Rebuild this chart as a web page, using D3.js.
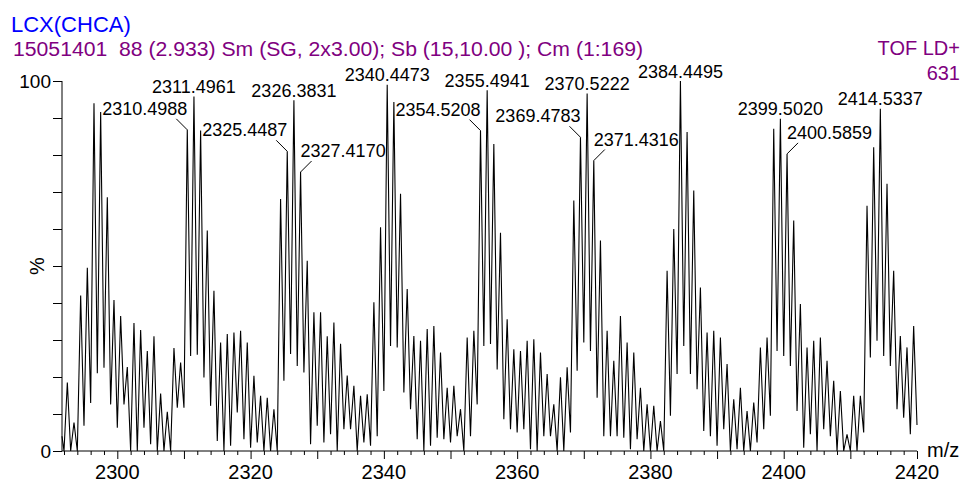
<!DOCTYPE html>
<html>
<head>
<meta charset="utf-8">
<script src="https://cdnjs.cloudflare.com/ajax/libs/d3/7.8.5/d3.min.js"></script>
<style>
  body { margin: 0; background: #fff; }
  text { font-family: "Liberation Sans", Arial, sans-serif; }
</style>
</head>
<body>
<script>
// mass spectrum, LCX(CHCA)

var width = 966;
var height = 484;

var titleText = "LCX(CHCA)";
var infoText = "15051401  88 (2.933) Sm (SG, 2x3.00); Sb (15,10.00 ); Cm (1:169)";
var modeText = "TOF LD+";
var countText = "631";

var xTicks = [2300, 2320, 2340, 2360, 2380, 2400, 2420];
var yTicks = [0, 100];

// m/z, % intensity
var spectrum = [
  [2291.7,4],[2292,0],[2292.5,18.5],[2293,0],[2293.5,7.7],[2294,0],[2294.5,42],[2295,6.8],[2295.5,49.5],[2296,13],
  [2296.5,94],[2297,21],[2297.5,91.6],[2298,22.5],[2298.5,68.6],[2299,12.6],[2299.5,40.8],[2300,6.3],[2300.5,36.5],[2301,12.6],
  [2301.5,22.7],[2302,0],[2302.5,34.6],[2303,0],[2303.5,32.7],[2304,6.3],[2304.5,27],[2305,1.8],[2305.5,31],[2306,0],
  [2306.5,15.5],[2307,0],[2307.5,10.6],[2308,0],[2308.5,27.8],[2309,11.7],[2309.5,23.9],[2310,11.7],[2310.5,86.8],[2311,25.7],
  [2311.5,95.8],[2312,26],[2312.5,86.6],[2313,19.9],[2313.5,59.6],[2314,12.2],[2314.5,43.3],[2315,2.7],[2315.5,29.3],[2316,0],
  [2316.5,31.6],[2317,1.4],[2317.5,32],[2318,10.4],[2318.5,32.5],[2319,3.2],[2319.5,29.3],[2320,0.9],[2320.5,20.3],[2321,2.3],
  [2321.5,14.9],[2322,0],[2322.5,14.4],[2323,0],[2323.5,11.3],[2324,0],[2324.5,68.1],[2325,19],[2325.5,81],[2326,26.2],
  [2326.5,94.8],[2327,23],[2327.5,75.4],[2328,21.2],[2328.5,51.4],[2329,1.8],[2329.5,37.5],[2330,6.8],[2330.5,37.5],[2331,2.3],
  [2331.5,31],[2332,4.5],[2332.5,34.7],[2333,0],[2333.5,29],[2334,5.9],[2334.5,20.4],[2335,5.9],[2335.5,17.6],[2336,0],
  [2336.5,14.9],[2337,2.3],[2337.5,15.3],[2338,1.4],[2338.5,40.2],[2339,4],[2339.5,60.5],[2340,16.2],[2340.5,99],[2341,28.4],
  [2341.5,94.3],[2342,28],[2342.5,69.5],[2343,15.8],[2343.5,43.8],[2344,11.3],[2344.5,31.1],[2345,3.2],[2345.5,29.8],[2346,0],
  [2346.5,33],[2347,1.4],[2347.5,33.8],[2348,3.6],[2348.5,26.6],[2349,3.2],[2349.5,17.1],[2350,2.3],[2350.5,17.6],[2351,4],
  [2351.5,11.3],[2352,0],[2352.5,30.7],[2353,4],[2353.5,32.5],[2354,12.6],[2354.5,86.6],[2355,28.4],[2355.5,97.5],[2356,28.9],
  [2356.5,83],[2357,22],[2357.5,59],[2358,8.6],[2358.5,35.6],[2359,5.9],[2359.5,27.5],[2360,5],[2360.5,27],[2361,5.9],
  [2361.5,29.8],[2362,0.5],[2362.5,30.2],[2363,0],[2363.5,26.6],[2364,4],[2364.5,20.8],[2365,4],[2365.5,12.6],[2366,0],
  [2366.5,19.9],[2367,0],[2367.5,22.6],[2368,5],[2368.5,67.7],[2369,21.7],[2369.5,84.8],[2370,29.3],[2370.5,96.6],[2371,27],
  [2371.5,78.5],[2372,14.4],[2372.5,56.9],[2373,4],[2373.5,32.5],[2374,4],[2374.5,24.4],[2375,4],[2375.5,36.5],[2376,3.6],
  [2376.5,29.3],[2377,0.5],[2377.5,26.6],[2378,3.2],[2378.5,17.1],[2379,0],[2379.5,12.6],[2380,0],[2380.5,12.2],[2381,0],
  [2381.5,8.1],[2382,0],[2382.5,48.7],[2383,9.5],[2383.5,60],[2384,20.8],[2384.5,100],[2385,28.4],[2385.5,86.2],[2386,20.8],
  [2386.5,70.4],[2387,16.7],[2387.5,44.2],[2388,5.4],[2388.5,32],[2389,4],[2389.5,32.5],[2390,1.4],[2390.5,30.7],[2391,5.9],
  [2391.5,23.5],[2392,0],[2392.5,14],[2393,0.5],[2393.5,17.1],[2394,0],[2394.5,10.8],[2395,0],[2395.5,13.1],[2396,2.3],
  [2396.5,28],[2397,5.9],[2397.5,30.7],[2398,9.5],[2398.5,87.1],[2399,27],[2399.5,89.8],[2400,25.7],[2400.5,80.3],[2401,23],
  [2401.5,62.3],[2402,10.8],[2402.5,39.7],[2403,0.9],[2403.5,28],[2404,4.5],[2404.5,29.8],[2405,0],[2405.5,30.7],[2406,5.9],
  [2406.5,24.4],[2407,4],[2407.5,19],[2408,0],[2408.5,16.2],[2409,0],[2409.5,4.5],[2410,0],[2410.5,14.9],[2411,0],
  [2411.5,14.9],[2412,5],[2412.5,66.3],[2413,25.3],[2413.5,82.1],[2414,29.8],[2414.5,92.5],[2415,25.7],[2415.5,72.2],[2416,23],
  [2416.5,48.7],[2417,11.3],[2417.5,31.1],[2418,9],[2418.5,28],[2419,4.5],[2419.5,33.8],[2420,7]
];

// peak labels: text and where it sits (c = above, l = left w/ leader, r = right w/ leader)
var peakLabels = ["2310.4988","2311.4961","2325.4487","2326.3831","2327.4170","2340.4473","2354.5208","2355.4941",
  "2369.4783","2370.5222","2371.4316","2384.4495","2399.5020","2400.5859","2414.5337"];
var peakSides = ["l","c","l","c","r","c","l","c","l","c","r","c","c","r","c"];

var svg = d3.select("body").append("svg")
    .attr("width", width)
    .attr("height", height);

var x = d3.scaleLinear().domain([2291.7, 2420]).range([62, 917]);
var y = d3.scaleLinear().domain([0, 100]).range([451, 81]);

//titles
svg.append("text")
    .attr("x", 11).attr("y", 32)
    .attr("font-size", 22)
    .attr("fill", "#0000ff")
    .text(titleText);
svg.append("text")
    .attr("x", 13).attr("y", 56)
    .attr("font-size", 20)
    .attr("fill", "#800080")
    .attr("xml:space", "preserve")
    .style("white-space", "pre")
    .attr("textLength", 630)
    .attr("lengthAdjust", "spacingAndGlyphs")
    .text(infoText);
svg.append("text")
    .attr("x", 960).attr("y", 55)
    .attr("font-size", 20)
    .attr("text-anchor", "end")
    .attr("fill", "#800080")
    .text(modeText);
svg.append("text")
    .attr("x", 960).attr("y", 80)
    .attr("font-size", 20)
    .attr("text-anchor", "end")
    .attr("fill", "#800080")
    .text(countText);

//y axis
var yAxis = svg.append("g")
    .attr("transform", "translate(62,0)")
    .call(d3.axisLeft(y).tickValues(d3.range(0, 101, 10)).tickSize(9).tickFormat(""));
yAxis.select(".domain").attr("d", "M0," + y(100) + "V" + y(0));
yAxis.selectAll(".tick line").attr("stroke", "#000");

svg.selectAll(".ylab")
    .data(yTicks)
  .enter().append("text")
    .attr("class", "ylab")
    .attr("x", 51)
    .attr("y", function(d){ return y(d) + 7; })
    .attr("text-anchor", "end")
    .attr("font-size", 19)
    .text(function(d){ return d; });

svg.append("text")
    .attr("transform", "translate(44," + y(50) + ") rotate(-90)")
    .attr("text-anchor", "middle")
    .attr("font-size", 20)
    .text("%");

//x axis
var minorTicks = d3.range(2292, 2421, 2);
var xAxis = svg.append("g")
    .attr("transform", "translate(0," + y(0) + ")")
    .call(d3.axisBottom(x).tickValues(minorTicks).tickSizeOuter(0).tickFormat(""));
xAxis.select(".domain").attr("d", "M" + x.range()[0] + ",0H" + x.range()[1]);
xAxis.selectAll(".tick line")
    .attr("y2", function(d){ return d % 10 === 0 ? 8 : 4; });

svg.selectAll(".xlab")
    .data(xTicks)
  .enter().append("text")
    .attr("class", "xlab")
    .attr("x", function(d){ return x(d); })
    .attr("y", 479)
    .attr("text-anchor", "middle")
    .attr("font-size", 20)
    .text(function(d){ return d; });

svg.append("text")
    .attr("x", 927).attr("y", 457)
    .attr("font-size", 20)
    .text("m/z");

//trace
var line = d3.line()
    .x(function(d){ return x(d[0]); })
    .y(function(d){ return y(d[1]); });

svg.append("path")
    .datum(spectrum)
    .attr("fill", "none")
    .attr("stroke", "#000")
    .attr("stroke-width", 1.1)
    .attr("stroke-linejoin", "miter")
    .attr("d", line);

//peak labels
var labelData = peakLabels.map(function(t, i){
  var m = +t;
  var near = spectrum.filter(function(p){ return Math.abs(p[0] - m) <= 0.5; });
  var top = d3.max(near, function(p){ return p[1]; });
  var pk = near.find(function(p){ return p[1] === top; });
  return {text: t, side: peakSides[i], px: x(pk[0]), py: y(pk[1])};
});

svg.selectAll(".plab")
    .data(labelData)
  .enter().append("text")
    .attr("class", "plab")
    .attr("font-size", 18)
    .attr("x", function(d){ return d.px; })
    .attr("y", function(d){ return d.side === "c" ? d.py - 3.5 : d.py - 15; })
    .attr("text-anchor", function(d){
      return d.side === "c" ? "middle" : (d.side === "l" ? "end" : "start");
    })
    .text(function(d){ return d.text; });

svg.selectAll(".leader")
    .data(labelData.filter(function(d){ return d.side !== "c"; }))
  .enter().append("line")
    .attr("class", "leader")
    .attr("stroke", "#000")
    .attr("x1", function(d){ return d.px; })
    .attr("y1", function(d){ return d.py; })
    .attr("x2", function(d){ return d.side === "l" ? d.px - 11 : d.px + 11; })
    .attr("y2", function(d){ return d.py - 11; });
</script>
</body>
</html>
